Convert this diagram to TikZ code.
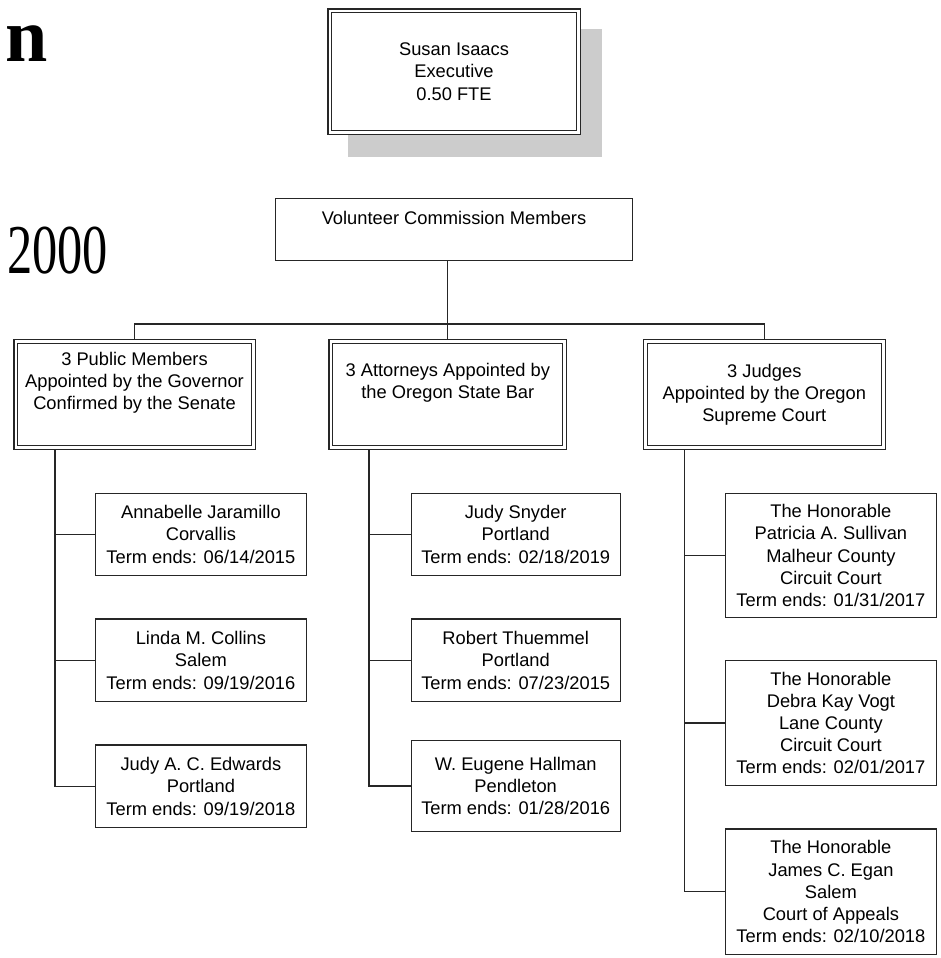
\documentclass[tikz,border=0pt]{standalone}
\usepackage{fontspec}
\usepackage{graphicx}
\setmainfont{Liberation Sans}
\newfontfamily\serifx{Liberation Serif}
\usetikzlibrary{backgrounds}
\begin{document}
\begin{tikzpicture}[x=1pt,y=-1pt,
  every node/.style={font=\fontsize{18.3}{22.2}\selectfont, align=center, inner sep=0pt},
  box/.style={draw=black!85, line width=1.2pt, fill=white, rectangle, inner sep=0pt},
  dbox/.style={draw=black!85, line width=1.1pt, double=white, double distance=2.8pt, fill=white, rectangle, inner sep=0pt},
  conn/.style={draw=black!85, line width=1.2pt},
  shadowfill/.style={fill=black!20}]
\useasboundingbox (0,0) rectangle (941,958);

% fragments of a heading at the left edge
\node[anchor=base east, font=\serifx\bfseries\fontsize{76}{80}\selectfont] (frag1) at (48,62) {n};
\node[anchor=base east, font=\serifx\fontsize{70}{74}\selectfont] (frag2) at (108,273) {\scalebox{0.72}[1]{2000}};

% executive box with shadow
\path[shadowfill] (348,29) rectangle (602,157);
\node[dbox, minimum width=248.2pt, minimum height=121.5pt] (exec) at (454,71.7) {Susan Isaacs\\Executive\\0.50 FTE};

% commission
\node[box, minimum width=356.5pt, minimum height=61.8pt] (vol) at (453.9,229.5) {};
\node (volt) at (454,218) {Volunteer Commission Members};

% level 2
\node[dbox, minimum width=237.2pt, minimum height=105.8pt] (pub) at (134.5,394.5) {};
\node (pubt) at (134.5,383) {3 Public Members\\Appointed by the Governor\\Confirmed by the Senate};
\node[dbox, minimum width=233.8pt, minimum height=105.8pt] (att) at (447.8,394.5) {};
\node (attt) at (447.8,383) {3 Attorneys Appointed by\\the Oregon State Bar};
\node[dbox, minimum width=238.1pt, minimum height=105.8pt] (jud) at (764.3,394.5) {};
\node (judt) at (764.3,394.5) {3 Judges\\Appointed by the Oregon\\Supreme Court};

% public members
\node[box, minimum width=210.5pt, minimum height=82.1pt] (p1) at (200.9,534.4) {Annabelle Jaramillo\\Corvallis\\Term ends: 06/14/2015};
\node[box, minimum width=210.5pt, minimum height=82.8pt] (p2) at (200.9,660.3) {Linda M. Collins\\Salem\\Term ends: 09/19/2016};
\node[box, minimum width=210.5pt, minimum height=82.8pt] (p3) at (200.9,786.3) {Judy A. C. Edwards\\Portland\\Term ends: 09/19/2018};

% attorneys
\node[box, minimum width=208.8pt, minimum height=82.1pt] (a1) at (515.7,534.4) {Judy Snyder\\Portland\\Term ends: 02/18/2019};
\node[box, minimum width=208.8pt, minimum height=82.8pt] (a2) at (515.7,660.3) {Robert Thuemmel\\Portland\\Term ends: 07/23/2015};
\node[box, minimum width=208.8pt, minimum height=90.8pt] (a3) at (515.7,786) {W. Eugene Hallman\\Pendleton\\Term ends: 01/28/2016};

% judges
\node[box, minimum width=210.5pt, minimum height=124.4pt] (j1) at (830.9,555.5) {The Honorable\\Patricia A. Sullivan\\Malheur County\\Circuit Court\\Term ends: 01/31/2017};
\node[box, minimum width=210.5pt, minimum height=124.5pt] (j2) at (830.9,722.9) {The Honorable\\Debra Kay Vogt\\Lane County\\Circuit Court\\Term ends: 02/01/2017};
\node[box, minimum width=210.5pt, minimum height=125.5pt] (j3) at (830.9,891.7) {The Honorable\\James C. Egan\\Salem\\Court of Appeals\\Term ends: 02/10/2018};

\coordinate (bus) at (0,324);
\coordinate (tl) at (55,0);
\coordinate (tm) at (369,0);
\coordinate (tr) at (684.5,0);

\begin{scope}[on background layer]
  \draw[conn] (vol.south -| att.north) -- (att.north);
  \draw[conn] (pub.north) -- (pub.north |- bus) -- (jud.north |- bus) -- (jud.north);
  % public trunk
  \draw[conn] (tl |- pub.south) |- (p3.west);
  \draw[conn] (tl |- p1.west) -- (p1.west);
  \draw[conn] (tl |- p2.west) -- (p2.west);
  % attorney trunk
  \draw[conn] (tm |- att.south) |- (a3.west);
  \draw[conn, line width=2pt] (tm |- att.south) -- (tm |- a1.west);
  \draw[conn] (tm |- a1.west) -- (a1.west);
  \draw[conn] (tm |- a2.west) -- (a2.west);
  % judge trunk
  \draw[conn] (tr |- jud.south) |- (j3.west);
  \draw[conn] (tr |- j1.west) -- (j1.west);
  \draw[conn] (tr |- j2.west) -- (j2.west);
\end{scope}
\end{tikzpicture}
\end{document}
